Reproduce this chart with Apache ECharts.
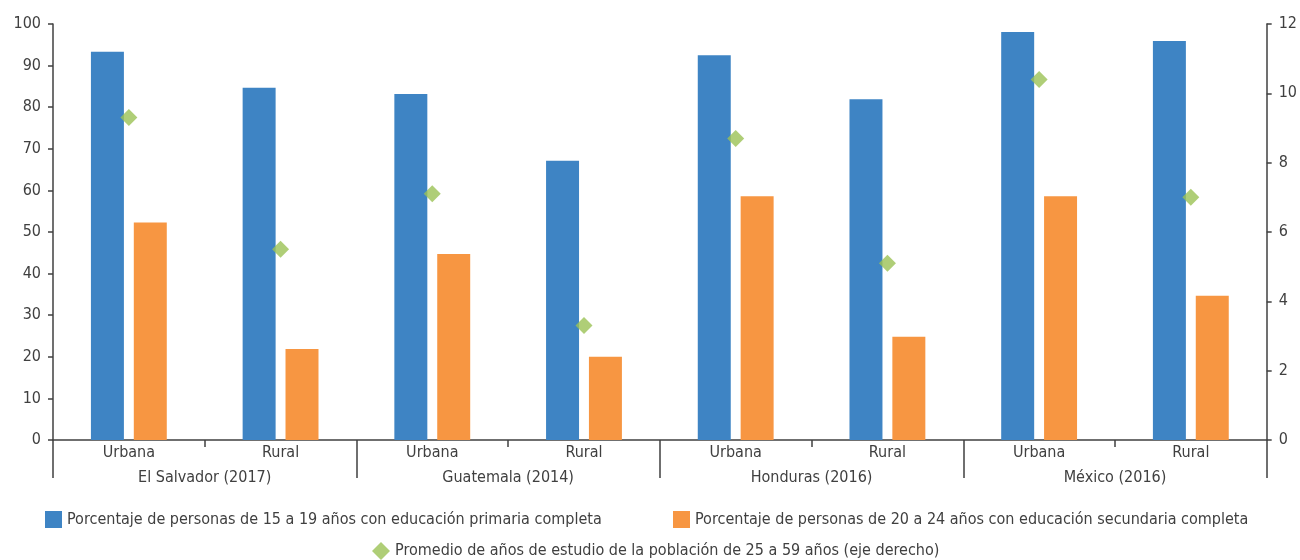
<!DOCTYPE html>
<html>
<head>
<meta charset="utf-8">
<script src="https://cdn.jsdelivr.net/npm/echarts@6/dist/echarts.min.js"></script>
<style>
  html, body { margin: 0; padding: 0; background: #ffffff; }
  #chart { width: 1300px; height: 560px; }
</style>
</head>
<body>
<div id="chart"></div>
<script>
// Zone labels (inner axis level) and country labels (outer axis level)
const zonas = ['Urbana', 'Rural', 'Urbana', 'Rural', 'Urbana', 'Rural', 'Urbana', 'Rural'];
const paises = ['El Salvador (2017)', 'Guatemala (2014)', 'Honduras (2016)', 'México (2016)'];

// Percentages (left axis)
const primariaCompleta = [93.3, 84.7, 83.2, 67.1, 92.5, 81.9, 98.1, 95.9];
const secundariaCompleta = [52.3, 21.9, 44.7, 20.0, 58.6, 24.8, 58.6, 34.7];

// Average years of schooling (right axis)
const promedioAnios = [9.3, 5.5, 7.1, 3.3, 8.7, 5.1, 10.4, 7.0];

const nombres = [
  'Porcentaje de personas de 15 a 19 años con educación primaria completa',
  'Porcentaje de personas de 20 a 24 años con educación secundaria completa',
  'Promedio de años de estudio de la población de 25 a 59 años (eje derecho)'
];

const FONT = '"Liberation Sans Narrow", "DejaVu Sans Condensed", "Noto Sans", sans-serif';
const FS = 16;
const TEXT = '#404040';
const LINE = '#404040';

const legendText = { fontFamily: FONT, fontSize: FS, color: TEXT };

const chart = echarts.init(document.getElementById('chart'), null, { renderer: 'canvas' });

chart.setOption({
  animation: false,
  textStyle: { fontFamily: FONT, color: TEXT },
  grid: { left: 53, right: 32, top: 24, bottom: 120, containLabel: false },
  legend: [
    {
      data: [nombres[0]], left: 40, top: 506,
      icon: 'rect', itemWidth: 17, itemHeight: 17, textStyle: legendText
    },
    {
      data: [nombres[1]], left: 668, top: 506,
      icon: 'rect', itemWidth: 17, itemHeight: 17, textStyle: legendText
    },
    {
      data: [nombres[2]], left: 367, top: 537,
      itemWidth: 18, itemHeight: 18, textStyle: legendText
    }
  ],
  xAxis: [
    {
      type: 'category', data: zonas, position: 'bottom',
      axisLine: { show: true, lineStyle: { color: LINE, width: 1.5 } },
      axisTick: { show: true, interval: 0, length: 7, lineStyle: { color: LINE, width: 1.5 } },
      axisLabel: { interval: 0, margin: 5, fontSize: FS, color: TEXT, fontFamily: FONT }
    },
    {
      type: 'category', data: paises, position: 'bottom',
      axisLine: { show: false },
      axisTick: { show: true, interval: 0, length: 38, lineStyle: { color: LINE, width: 1.5 } },
      axisLabel: { interval: 0, margin: 30, fontSize: FS, color: TEXT, fontFamily: FONT }
    }
  ],
  yAxis: [
    {
      type: 'value', min: 0, max: 100, interval: 10,
      axisLine: { show: true, lineStyle: { color: LINE, width: 1.5 } },
      axisTick: { show: true, length: 5, lineStyle: { color: LINE, width: 1.5 } },
      splitLine: { show: false },
      axisLabel: { margin: 12, fontSize: FS, color: TEXT, fontFamily: FONT }
    },
    {
      type: 'value', min: 0, max: 12, interval: 2, position: 'right',
      axisLine: { show: true, lineStyle: { color: LINE, width: 1.5 } },
      axisTick: { show: true, length: 5, lineStyle: { color: LINE, width: 1.5 } },
      splitLine: { show: false },
      axisLabel: { margin: 12, fontSize: FS, color: TEXT, fontFamily: FONT }
    }
  ],
  series: [
    {
      name: nombres[0], type: 'bar', xAxisIndex: 0, yAxisIndex: 0,
      data: primariaCompleta, barCategoryGap: '50%', barGap: '30%',
      itemStyle: { color: '#3E84C4' }
    },
    {
      name: nombres[1], type: 'bar', xAxisIndex: 0, yAxisIndex: 0,
      data: secundariaCompleta, barCategoryGap: '50%', barGap: '30%',
      itemStyle: { color: '#F79642' }
    },
    {
      name: nombres[2], type: 'scatter', xAxisIndex: 0, yAxisIndex: 1,
      data: promedioAnios, symbol: 'diamond', symbolSize: [17, 17], z: 5,
      itemStyle: { color: '#9BC255' }
    }
  ]
});
</script>
</body>
</html>
